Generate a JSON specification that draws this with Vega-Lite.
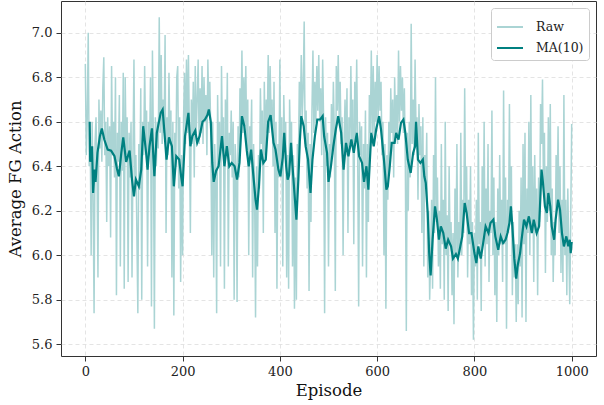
{
  "$schema": "https://vega.github.io/schema/vega-lite/v6.json",
  "width": 535,
  "height": 355,
  "autosize": {"type": "none"},
  "padding": {"left": 61, "top": 1, "right": 8, "bottom": 49},
  "background": "white",
  "config": {
    "font": "DejaVu Serif",
    "view": {"stroke": "#333333", "strokeWidth": 1},
    "axis": {
      "domain": false,
      "grid": true,
      "gridColor": "#dddddd",
      "gridDash": [4, 3],
      "gridWidth": 0.8,
      "tickColor": "#333333",
      "tickSize": 5,
      "labelPadding": 4,
      "labelFont": "DejaVu Serif",
      "labelFontSize": 13,
      "labelColor": "#222222",
      "titleFont": "DejaVu Serif",
      "titleFontSize": 16.5,
      "titleFontWeight": "normal",
      "titleColor": "#111111"
    },
    "legend": {
      "orient": "top-right",
      "offset": 7,
      "title": null,
      "fillColor": "white",
      "strokeColor": "#cccccc",
      "cornerRadius": 3,
      "padding": 5,
      "symbolType": "stroke",
      "symbolSize": 676,
      "symbolStrokeWidth": 2,
      "rowPadding": -4,
      "labelOffset": 12,
      "labelFont": "DejaVu Serif",
      "labelFontSize": 12.5,
      "labelColor": "#222222"
    }
  },
  "datasets": {
    "raw": [
      {"e":0,"v":6.86},{"e":2,"v":6.45},{"e":4,"v":6.62},{"e":6,"v":7.00},{"e":8,"v":6.40},{"e":10,"v":6.55},{"e":12,"v":6.00},{"e":14,"v":6.60},{"e":16,"v":6.27},{"e":18,"v":5.74},
      {"e":20,"v":6.50},{"e":22,"v":6.62},{"e":24,"v":6.40},{"e":26,"v":5.90},{"e":28,"v":6.70},{"e":30,"v":6.48},{"e":32,"v":6.65},{"e":34,"v":6.42},{"e":36,"v":6.75},{"e":38,"v":6.89},
      {"e":40,"v":6.45},{"e":42,"v":6.60},{"e":44,"v":6.15},{"e":46,"v":6.62},{"e":48,"v":6.40},{"e":50,"v":6.58},{"e":52,"v":6.08},{"e":54,"v":6.85},{"e":56,"v":6.45},{"e":58,"v":6.60},
      {"e":60,"v":6.35},{"e":62,"v":6.80},{"e":64,"v":5.82},{"e":66,"v":6.55},{"e":68,"v":6.42},{"e":70,"v":6.72},{"e":72,"v":5.95},{"e":74,"v":6.60},{"e":76,"v":6.38},{"e":78,"v":6.82},
      {"e":80,"v":5.85},{"e":82,"v":6.80},{"e":84,"v":6.45},{"e":86,"v":6.62},{"e":88,"v":5.88},{"e":90,"v":6.55},{"e":92,"v":6.35},{"e":94,"v":6.60},{"e":96,"v":5.90},{"e":98,"v":6.45},
      {"e":100,"v":6.88},{"e":102,"v":6.30},{"e":104,"v":6.45},{"e":106,"v":6.10},{"e":108,"v":5.74},{"e":110,"v":6.50},{"e":112,"v":6.30},{"e":114,"v":6.75},{"e":116,"v":5.80},{"e":118,"v":6.60},
      {"e":120,"v":6.45},{"e":122,"v":6.85},{"e":124,"v":6.50},{"e":126,"v":6.65},{"e":128,"v":5.95},{"e":130,"v":6.60},{"e":132,"v":6.45},{"e":134,"v":6.80},{"e":136,"v":5.77},{"e":138,"v":6.92},
      {"e":140,"v":6.50},{"e":142,"v":5.67},{"e":144,"v":6.62},{"e":146,"v":6.40},{"e":148,"v":6.60},{"e":150,"v":6.48},{"e":152,"v":7.07},{"e":154,"v":6.55},{"e":156,"v":6.90},{"e":158,"v":6.50},
      {"e":160,"v":6.70},{"e":162,"v":6.55},{"e":164,"v":6.99},{"e":166,"v":6.10},{"e":168,"v":6.62},{"e":170,"v":6.45},{"e":172,"v":6.82},{"e":174,"v":6.50},{"e":176,"v":6.65},{"e":178,"v":5.90},
      {"e":180,"v":6.60},{"e":182,"v":5.73},{"e":184,"v":6.55},{"e":186,"v":6.40},{"e":188,"v":6.80},{"e":190,"v":6.85},{"e":192,"v":6.30},{"e":194,"v":6.62},{"e":196,"v":5.88},{"e":198,"v":6.45},
      {"e":200,"v":6.00},{"e":202,"v":6.62},{"e":204,"v":6.82},{"e":206,"v":6.50},{"e":208,"v":6.88},{"e":210,"v":6.55},{"e":212,"v":6.90},{"e":214,"v":6.55},{"e":216,"v":6.10},{"e":218,"v":6.70},
      {"e":220,"v":6.50},{"e":222,"v":6.78},{"e":224,"v":6.35},{"e":226,"v":6.85},{"e":228,"v":6.55},{"e":230,"v":6.70},{"e":232,"v":6.88},{"e":234,"v":6.50},{"e":236,"v":6.75},{"e":238,"v":6.55},
      {"e":240,"v":6.85},{"e":242,"v":6.50},{"e":244,"v":6.80},{"e":246,"v":6.60},{"e":248,"v":6.72},{"e":250,"v":6.45},{"e":252,"v":6.88},{"e":254,"v":6.65},{"e":256,"v":6.78},{"e":258,"v":6.55},
      {"e":260,"v":6.00},{"e":262,"v":6.60},{"e":264,"v":5.90},{"e":266,"v":6.50},{"e":268,"v":6.35},{"e":270,"v":5.74},{"e":272,"v":6.72},{"e":274,"v":6.40},{"e":276,"v":6.60},{"e":278,"v":5.95},
      {"e":280,"v":6.85},{"e":282,"v":6.50},{"e":284,"v":6.62},{"e":286,"v":5.85},{"e":288,"v":6.70},{"e":290,"v":6.45},{"e":292,"v":6.82},{"e":294,"v":5.95},{"e":296,"v":6.55},{"e":298,"v":6.45},
      {"e":300,"v":6.65},{"e":302,"v":6.35},{"e":304,"v":6.60},{"e":306,"v":5.80},{"e":308,"v":6.50},{"e":310,"v":6.40},{"e":312,"v":5.79},{"e":314,"v":6.58},{"e":316,"v":6.35},{"e":318,"v":6.75},
      {"e":320,"v":6.55},{"e":322,"v":6.92},{"e":324,"v":6.55},{"e":326,"v":6.80},{"e":328,"v":6.58},{"e":330,"v":6.85},{"e":332,"v":6.45},{"e":334,"v":6.70},{"e":336,"v":6.00},{"e":338,"v":6.58},
      {"e":340,"v":6.45},{"e":342,"v":6.70},{"e":344,"v":5.90},{"e":346,"v":6.50},{"e":348,"v":6.30},{"e":350,"v":5.72},{"e":352,"v":6.40},{"e":354,"v":5.95},{"e":356,"v":6.45},{"e":358,"v":6.30},
      {"e":360,"v":6.75},{"e":362,"v":6.50},{"e":364,"v":6.65},{"e":366,"v":6.10},{"e":368,"v":6.78},{"e":370,"v":6.45},{"e":372,"v":6.70},{"e":374,"v":6.55},{"e":376,"v":6.90},{"e":378,"v":6.55},
      {"e":380,"v":6.85},{"e":382,"v":6.60},{"e":384,"v":6.70},{"e":386,"v":6.40},{"e":388,"v":6.78},{"e":390,"v":6.10},{"e":392,"v":6.60},{"e":394,"v":5.85},{"e":396,"v":6.50},{"e":398,"v":6.35},
      {"e":400,"v":6.88},{"e":402,"v":6.35},{"e":404,"v":6.62},{"e":406,"v":5.95},{"e":408,"v":6.72},{"e":410,"v":6.50},{"e":412,"v":6.60},{"e":414,"v":5.90},{"e":416,"v":6.45},{"e":418,"v":5.85},
      {"e":420,"v":6.70},{"e":422,"v":6.45},{"e":424,"v":6.60},{"e":426,"v":5.95},{"e":428,"v":6.45},{"e":430,"v":5.76},{"e":432,"v":6.35},{"e":434,"v":5.80},{"e":436,"v":6.50},{"e":438,"v":6.40},
      {"e":440,"v":6.78},{"e":442,"v":6.60},{"e":444,"v":6.90},{"e":446,"v":6.62},{"e":448,"v":6.75},{"e":450,"v":7.05},{"e":452,"v":6.50},{"e":454,"v":6.65},{"e":456,"v":6.30},{"e":458,"v":6.55},
      {"e":460,"v":5.84},{"e":462,"v":6.50},{"e":464,"v":6.15},{"e":466,"v":6.65},{"e":468,"v":6.92},{"e":470,"v":6.55},{"e":472,"v":6.78},{"e":474,"v":6.60},{"e":476,"v":6.85},{"e":478,"v":6.65},
      {"e":480,"v":6.90},{"e":482,"v":6.60},{"e":484,"v":6.75},{"e":486,"v":6.45},{"e":488,"v":6.88},{"e":490,"v":6.60},{"e":492,"v":5.74},{"e":494,"v":6.62},{"e":496,"v":6.40},{"e":498,"v":6.55},
      {"e":500,"v":5.95},{"e":502,"v":6.50},{"e":504,"v":6.35},{"e":506,"v":6.68},{"e":508,"v":6.45},{"e":510,"v":6.78},{"e":512,"v":6.55},{"e":514,"v":5.84},{"e":516,"v":6.85},{"e":518,"v":6.65},
      {"e":520,"v":6.90},{"e":522,"v":6.60},{"e":524,"v":6.78},{"e":526,"v":6.50},{"e":528,"v":6.62},{"e":530,"v":6.00},{"e":532,"v":6.50},{"e":534,"v":6.70},{"e":536,"v":6.45},{"e":538,"v":6.75},
      {"e":540,"v":6.10},{"e":542,"v":6.62},{"e":544,"v":6.50},{"e":546,"v":6.85},{"e":548,"v":6.50},{"e":550,"v":6.70},{"e":552,"v":6.05},{"e":554,"v":6.78},{"e":556,"v":6.55},{"e":558,"v":6.88},
      {"e":560,"v":6.45},{"e":562,"v":5.77},{"e":564,"v":6.60},{"e":566,"v":6.45},{"e":568,"v":6.58},{"e":570,"v":5.95},{"e":572,"v":6.50},{"e":574,"v":6.30},{"e":576,"v":6.65},{"e":578,"v":5.90},
      {"e":580,"v":6.50},{"e":582,"v":6.15},{"e":584,"v":6.72},{"e":586,"v":6.55},{"e":588,"v":6.92},{"e":590,"v":6.55},{"e":592,"v":6.85},{"e":594,"v":6.50},{"e":596,"v":6.78},{"e":598,"v":6.60},
      {"e":600,"v":6.90},{"e":602,"v":6.60},{"e":604,"v":6.85},{"e":606,"v":6.65},{"e":608,"v":6.78},{"e":610,"v":6.45},{"e":612,"v":6.60},{"e":614,"v":6.00},{"e":616,"v":6.50},{"e":618,"v":5.76},
      {"e":620,"v":6.45},{"e":622,"v":6.25},{"e":624,"v":6.60},{"e":626,"v":6.40},{"e":628,"v":6.75},{"e":630,"v":6.55},{"e":632,"v":6.70},{"e":634,"v":6.35},{"e":636,"v":6.80},{"e":638,"v":6.55},
      {"e":640,"v":6.72},{"e":642,"v":6.50},{"e":644,"v":6.92},{"e":646,"v":6.60},{"e":648,"v":6.85},{"e":650,"v":6.65},{"e":652,"v":6.80},{"e":654,"v":6.55},{"e":656,"v":6.75},{"e":658,"v":6.40},
      {"e":660,"v":5.66},{"e":662,"v":6.55},{"e":664,"v":6.20},{"e":666,"v":6.60},{"e":668,"v":6.35},{"e":670,"v":7.04},{"e":672,"v":6.50},{"e":674,"v":6.70},{"e":676,"v":6.45},{"e":678,"v":6.88},
      {"e":680,"v":6.55},{"e":682,"v":6.62},{"e":684,"v":6.25},{"e":686,"v":6.68},{"e":688,"v":6.45},{"e":690,"v":6.58},{"e":692,"v":6.10},{"e":694,"v":6.62},{"e":696,"v":5.95},{"e":698,"v":6.45},
      {"e":700,"v":6.30},{"e":702,"v":6.55},{"e":704,"v":5.90},{"e":706,"v":6.20},{"e":708,"v":5.80},{"e":710,"v":6.00},{"e":712,"v":6.25},{"e":714,"v":5.85},{"e":716,"v":6.45},{"e":718,"v":6.10},
      {"e":720,"v":6.80},{"e":722,"v":6.15},{"e":724,"v":6.35},{"e":726,"v":5.95},{"e":728,"v":6.20},{"e":730,"v":5.85},{"e":732,"v":6.50},{"e":734,"v":6.05},{"e":736,"v":6.25},{"e":738,"v":5.80},
      {"e":740,"v":6.60},{"e":742,"v":6.00},{"e":744,"v":6.18},{"e":746,"v":5.75},{"e":748,"v":6.40},{"e":750,"v":6.05},{"e":752,"v":6.15},{"e":754,"v":5.82},{"e":756,"v":6.10},{"e":758,"v":5.69},
      {"e":760,"v":6.30},{"e":762,"v":6.00},{"e":764,"v":6.50},{"e":766,"v":5.90},{"e":768,"v":6.15},{"e":770,"v":6.00},{"e":772,"v":6.55},{"e":774,"v":6.00},{"e":776,"v":6.25},{"e":778,"v":6.10},
      {"e":780,"v":6.75},{"e":782,"v":6.20},{"e":784,"v":6.40},{"e":786,"v":5.90},{"e":788,"v":6.25},{"e":790,"v":6.05},{"e":792,"v":6.40},{"e":794,"v":5.82},{"e":796,"v":6.15},{"e":798,"v":5.62},
      {"e":800,"v":6.10},{"e":802,"v":5.95},{"e":804,"v":6.25},{"e":806,"v":5.80},{"e":808,"v":6.55},{"e":810,"v":6.05},{"e":812,"v":6.15},{"e":814,"v":5.75},{"e":816,"v":6.40},{"e":818,"v":6.05},
      {"e":820,"v":6.60},{"e":822,"v":5.95},{"e":824,"v":6.30},{"e":826,"v":6.05},{"e":828,"v":6.50},{"e":830,"v":5.88},{"e":832,"v":6.20},{"e":834,"v":6.10},{"e":836,"v":6.65},{"e":838,"v":6.00},
      {"e":840,"v":6.35},{"e":842,"v":5.82},{"e":844,"v":6.15},{"e":846,"v":5.70},{"e":848,"v":6.30},{"e":850,"v":6.00},{"e":852,"v":6.45},{"e":854,"v":6.05},{"e":856,"v":6.25},{"e":858,"v":5.88},
      {"e":860,"v":6.74},{"e":862,"v":6.05},{"e":864,"v":6.35},{"e":866,"v":5.67},{"e":868,"v":6.25},{"e":870,"v":6.10},{"e":872,"v":6.68},{"e":874,"v":6.15},{"e":876,"v":6.40},{"e":878,"v":5.82},
      {"e":880,"v":6.15},{"e":882,"v":5.90},{"e":884,"v":6.05},{"e":886,"v":5.70},{"e":888,"v":6.05},{"e":890,"v":5.78},{"e":892,"v":6.20},{"e":894,"v":5.95},{"e":896,"v":6.35},{"e":898,"v":5.72},
      {"e":900,"v":6.50},{"e":902,"v":6.05},{"e":904,"v":6.55},{"e":906,"v":5.70},{"e":908,"v":6.30},{"e":910,"v":6.10},{"e":912,"v":6.60},{"e":914,"v":6.00},{"e":916,"v":6.72},{"e":918,"v":6.10},
      {"e":920,"v":6.40},{"e":922,"v":5.88},{"e":924,"v":6.45},{"e":926,"v":6.10},{"e":928,"v":6.30},{"e":930,"v":5.82},{"e":932,"v":6.35},{"e":934,"v":6.15},{"e":936,"v":6.68},{"e":938,"v":6.50},
      {"e":940,"v":6.79},{"e":942,"v":6.30},{"e":944,"v":6.55},{"e":946,"v":5.92},{"e":948,"v":6.40},{"e":950,"v":6.15},{"e":952,"v":6.62},{"e":954,"v":6.20},{"e":956,"v":6.68},{"e":958,"v":6.00},
      {"e":960,"v":6.30},{"e":962,"v":5.88},{"e":964,"v":6.15},{"e":966,"v":6.00},{"e":968,"v":6.45},{"e":970,"v":6.20},{"e":972,"v":6.58},{"e":974,"v":6.10},{"e":976,"v":6.40},{"e":978,"v":5.92},
      {"e":980,"v":6.25},{"e":982,"v":5.88},{"e":984,"v":6.72},{"e":986,"v":6.00},{"e":988,"v":6.25},{"e":990,"v":5.82},{"e":992,"v":6.30},{"e":994,"v":6.05},{"e":996,"v":5.78},{"e":998,"v":6.15},
      {"e":1000,"v":6.59}
    ],
    "ma": [
      {"e":9,"v":6.60},{"e":10,"v":6.42},{"e":14,"v":6.49},{"e":16,"v":6.28},{"e":19,"v":6.385},{"e":21,"v":6.33},{"e":25,"v":6.46},{"e":30,"v":6.535},{"e":34,"v":6.57},{"e":39,"v":6.52},
      {"e":46,"v":6.475},{"e":53,"v":6.47},{"e":60,"v":6.445},{"e":65,"v":6.39},{"e":69,"v":6.355},{"e":74,"v":6.46},{"e":78,"v":6.53},{"e":84,"v":6.42},{"e":91,"v":6.47},{"e":96,"v":6.34},
      {"e":100,"v":6.265},{"e":104,"v":6.34},{"e":110,"v":6.31},{"e":115,"v":6.385},{"e":119,"v":6.58},{"e":125,"v":6.46},{"e":128,"v":6.385},{"e":132,"v":6.49},{"e":137,"v":6.57},{"e":142,"v":6.355},
      {"e":147,"v":6.55},{"e":155,"v":6.64},{"e":159,"v":6.655},{"e":162,"v":6.57},{"e":167,"v":6.43},{"e":172,"v":6.53},{"e":178,"v":6.49},{"e":182,"v":6.31},{"e":187,"v":6.445},{"e":193,"v":6.43},
      {"e":197,"v":6.355},{"e":200,"v":6.31},{"e":205,"v":6.535},{"e":212,"v":6.64},{"e":216,"v":6.49},{"e":220,"v":6.535},{"e":226,"v":6.56},{"e":230,"v":6.505},{"e":235,"v":6.535},{"e":241,"v":6.60},
      {"e":246,"v":6.61},{"e":251,"v":6.63},{"e":254,"v":6.655},{"e":258,"v":6.60},{"e":261,"v":6.415},{"e":264,"v":6.33},{"e":269,"v":6.38},{"e":274,"v":6.40},{"e":281,"v":6.535},{"e":286,"v":6.40},
      {"e":291,"v":6.49},{"e":296,"v":6.40},{"e":301,"v":6.415},{"e":307,"v":6.40},{"e":312,"v":6.34},{"e":317,"v":6.415},{"e":322,"v":6.625},{"e":327,"v":6.58},{"e":332,"v":6.47},{"e":336,"v":6.40},
      {"e":341,"v":6.475},{"e":345,"v":6.37},{"e":350,"v":6.25},{"e":353,"v":6.205},{"e":357,"v":6.31},{"e":361,"v":6.475},{"e":366,"v":6.415},{"e":371,"v":6.43},{"e":376,"v":6.60},{"e":381,"v":6.63},
      {"e":387,"v":6.505},{"e":391,"v":6.475},{"e":397,"v":6.385},{"e":401,"v":6.355},{"e":406,"v":6.44},{"e":409,"v":6.55},{"e":413,"v":6.40},{"e":416,"v":6.34},{"e":419,"v":6.36},{"e":423,"v":6.505},
      {"e":426,"v":6.40},{"e":430,"v":6.28},{"e":434,"v":6.16},{"e":438,"v":6.34},{"e":441,"v":6.51},{"e":444,"v":6.625},{"e":449,"v":6.58},{"e":453,"v":6.49},{"e":458,"v":6.43},{"e":463,"v":6.28},
      {"e":467,"v":6.43},{"e":472,"v":6.535},{"e":477,"v":6.61},{"e":483,"v":6.61},{"e":488,"v":6.625},{"e":491,"v":6.535},{"e":497,"v":6.46},{"e":500,"v":6.33},{"e":505,"v":6.40},{"e":510,"v":6.49},
      {"e":515,"v":6.565},{"e":520,"v":6.625},{"e":526,"v":6.55},{"e":531,"v":6.385},{"e":536,"v":6.505},{"e":541,"v":6.445},{"e":547,"v":6.52},{"e":552,"v":6.46},{"e":558,"v":6.55},{"e":563,"v":6.445},
      {"e":569,"v":6.415},{"e":573,"v":6.33},{"e":578,"v":6.40},{"e":582,"v":6.295},{"e":588,"v":6.55},{"e":593,"v":6.49},{"e":598,"v":6.565},{"e":604,"v":6.625},{"e":608,"v":6.565},{"e":614,"v":6.43},
      {"e":619,"v":6.295},{"e":622,"v":6.31},{"e":626,"v":6.40},{"e":630,"v":6.505},{"e":636,"v":6.505},{"e":639,"v":6.55},{"e":644,"v":6.52},{"e":649,"v":6.595},{"e":654,"v":6.61},{"e":658,"v":6.55},
      {"e":663,"v":6.43},{"e":669,"v":6.37},{"e":674,"v":6.46},{"e":678,"v":6.49},{"e":680,"v":6.60},{"e":684,"v":6.43},{"e":689,"v":6.415},{"e":694,"v":6.43},{"e":697,"v":6.355},{"e":700,"v":6.325},
      {"e":704,"v":6.19},{"e":707,"v":6.01},{"e":710,"v":5.91},{"e":714,"v":6.07},{"e":719,"v":6.22},{"e":723,"v":6.16},{"e":727,"v":6.07},{"e":731,"v":6.13},{"e":736,"v":6.10},{"e":741,"v":6.03},
      {"e":746,"v":6.07},{"e":752,"v":6.04},{"e":756,"v":5.985},{"e":762,"v":6.005},{"e":766,"v":5.985},{"e":771,"v":6.04},{"e":775,"v":6.085},{"e":780,"v":6.235},{"e":784,"v":6.19},{"e":789,"v":6.10},
      {"e":794,"v":6.10},{"e":800,"v":6.01},{"e":804,"v":5.965},{"e":808,"v":6.04},{"e":813,"v":5.985},{"e":818,"v":6.055},{"e":823,"v":6.13},{"e":829,"v":6.10},{"e":833,"v":6.145},{"e":839,"v":6.16},
      {"e":843,"v":6.085},{"e":849,"v":6.025},{"e":854,"v":6.085},{"e":859,"v":6.055},{"e":864,"v":6.07},{"e":868,"v":6.10},{"e":872,"v":6.145},{"e":875,"v":6.22},{"e":878,"v":6.13},{"e":882,"v":5.985},
      {"e":886,"v":5.895},{"e":889,"v":5.955},{"e":894,"v":6.01},{"e":897,"v":6.07},{"e":902,"v":6.16},{"e":907,"v":6.13},{"e":912,"v":6.175},{"e":918,"v":6.10},{"e":922,"v":6.16},{"e":928,"v":6.10},
      {"e":933,"v":6.13},{"e":936,"v":6.28},{"e":938,"v":6.385},{"e":941,"v":6.325},{"e":945,"v":6.22},{"e":949,"v":6.19},{"e":952,"v":6.28},{"e":956,"v":6.22},{"e":959,"v":6.13},{"e":964,"v":6.07},
      {"e":967,"v":6.16},{"e":972,"v":6.25},{"e":976,"v":6.205},{"e":980,"v":6.10},{"e":984,"v":6.04},{"e":989,"v":6.085},{"e":993,"v":6.04},{"e":996,"v":6.07},{"e":998,"v":6.01},{"e":1000,"v":6.06}
    ]
  },
  "encoding": {
    "x": {
      "field": "e",
      "type": "quantitative",
      "title": "Episode",
      "scale": {"domain": [-50, 1050], "nice": false, "zero": false},
      "axis": {"values": [0, 200, 400, 600, 800, 1000], "format": "d", "titlePadding": 4}
    },
    "y": {
      "field": "v",
      "type": "quantitative",
      "title": "Average FG Action",
      "scale": {"domain": [5.5475, 7.1425], "nice": false, "zero": false},
      "axis": {"values": [5.6, 5.8, 6.0, 6.2, 6.4, 6.6, 6.8, 7.0], "format": ".1f", "titlePadding": 8}
    }
  },
  "layer": [
    {
      "data": {"name": "raw"},
      "mark": {"type": "line", "strokeWidth": 1.5},
      "encoding": {
        "color": {
          "datum": "Raw",
          "type": "nominal",
          "scale": {"domain": ["Raw", "MA(10)"], "range": ["#aad4d4", "#008080"]}
        }
      }
    },
    {
      "data": {"name": "ma"},
      "mark": {"type": "line", "strokeWidth": 2.2},
      "encoding": {
        "color": {"datum": "MA(10)", "type": "nominal"}
      }
    }
  ]
}
